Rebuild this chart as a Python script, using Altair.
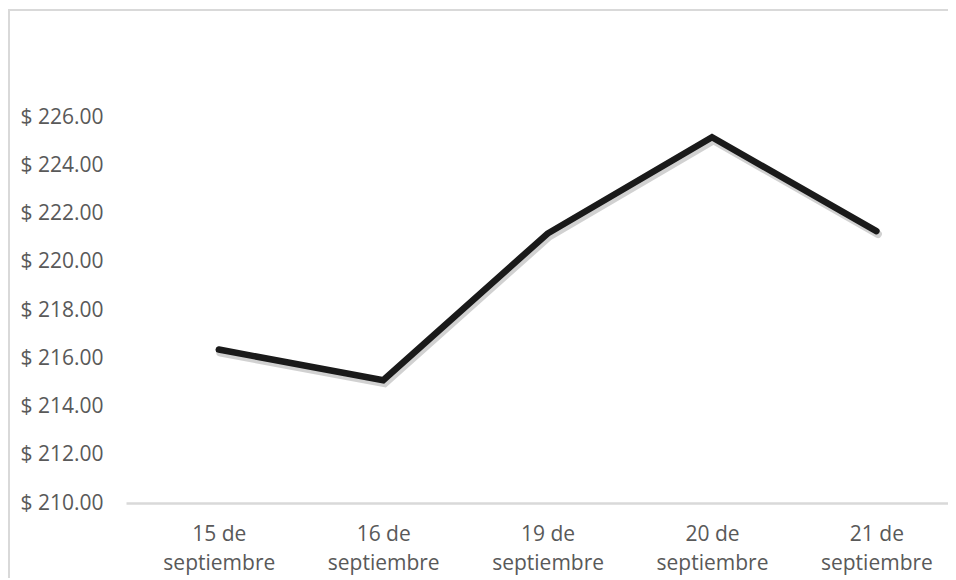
import altair as alt
import pandas as pd

fechas = ["15 de septiembre", "16 de septiembre", "19 de septiembre",
          "20 de septiembre", "21 de septiembre"]
precios = [216.36, 215.09, 221.17, 225.16, 221.27]
y_ticks = [210, 212, 214, 216, 218, 220, 222, 224, 226]

df = pd.DataFrame({"fecha": fechas, "precio": precios})

W, H = 822, 386
FONT = "Open Sans"

x_enc = alt.X(
    "fecha:O", sort=fechas, title=None,
    scale=alt.Scale(type="point", paddingOuter=0.442, align=0.5645),
    axis=alt.Axis(
        labelAngle=0, labelFont=FONT, labelFontSize=21, labelColor="#595959",
        labelPadding=20, labelLineHeight=29, ticks=False,
        domain=True, domainColor="#d9d9d9", domainWidth=2.5,
        grid=False,
        labelExpr="split(replace(datum.value, 'de ', 'de|'), '|')",
    ),
)
y_enc = alt.Y(
    "precio:Q", title=None,
    scale=alt.Scale(domain=[210, 226], nice=False, zero=False),
    axis=alt.Axis(
        values=y_ticks, labelFont=FONT, labelFontSize=21, labelColor="#595959",
        labelPadding=23, ticks=False, domain=False, grid=False,
        labelExpr="'$ ' + format(datum.value, '.2f')",
    ),
)

shadow = alt.Chart(df).mark_line(
    color="#000000", opacity=0.18, strokeWidth=8, strokeCap="round",
    strokeJoin="miter", xOffset=1.5, yOffset=3,
).encode(x=x_enc, y=y_enc)

line = alt.Chart(df).mark_line(
    color="#1a1a1a", strokeWidth=6.5, strokeCap="round", strokeJoin="miter",
).encode(x=x_enc, y=y_enc)

border_left = alt.Chart(df).mark_rule(color="#d9d9d9", strokeWidth=2, clip=False).encode(
    x=alt.value(-117), y=alt.value(-107), y2=alt.value(H + 90)
)
border_top = alt.Chart(df).mark_rule(color="#d9d9d9", strokeWidth=2, clip=False).encode(
    x=alt.value(-118), x2=alt.value(W), y=alt.value(-107)
)

chart = alt.layer(border_left, border_top, shadow, line).properties(
    width=W, height=H,
    background="white",
    autosize=alt.AutoSizeParams(type="none"),
    padding={"left": 118, "top": 109, "right": 0, "bottom": 75},
).configure_view(stroke=None, strokeWidth=0)

chart.save("out.html", embed_options={"renderer": "svg", "actions": False})
